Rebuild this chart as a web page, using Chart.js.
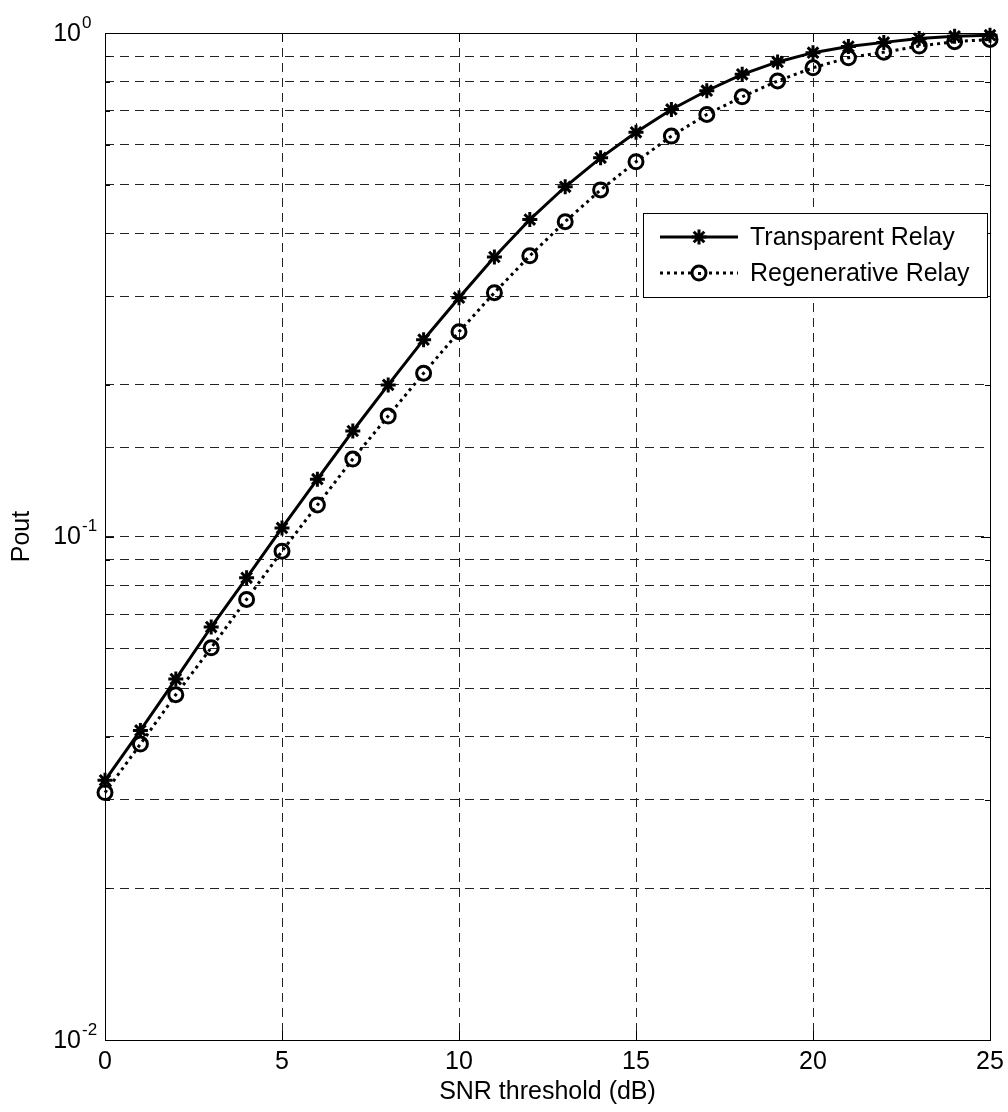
<!DOCTYPE html>
<html>
<head>
<meta charset="utf-8">
<script src="https://cdn.jsdelivr.net/npm/chart.js@4/dist/chart.umd.min.js"></script>
<style>
	body { margin: 0; background: #fff; }
	#wrap { width: 1008px; height: 1112px; }
</style>
</head>
<body>
<div id="wrap"><canvas id="myChart" width="1008" height="1112"></canvas></div>
<script>
// SNR threshold (dB)
var snr = [0, 1, 2, 3, 4, 5, 6, 7, 8, 9, 10, 11, 12, 13, 14, 15, 16, 17, 18, 19, 20, 21, 22, 23, 24, 25];
// outage probability
var transparent = [0.0328, 0.0412, 0.0521, 0.0661, 0.0828, 0.104, 0.130, 0.162, 0.200, 0.246, 0.298, 0.359, 0.426, 0.495, 0.565, 0.635, 0.705, 0.768, 0.828, 0.876, 0.914, 0.940, 0.958, 0.975, 0.985, 0.990];
var regenerative = [0.0310, 0.0387, 0.0485, 0.0601, 0.0750, 0.0935, 0.1155, 0.1425, 0.1735, 0.211, 0.255, 0.305, 0.361, 0.422, 0.488, 0.555, 0.624, 0.689, 0.747, 0.803, 0.853, 0.893, 0.916, 0.942, 0.961, 0.971];
var xTicks = [0, 5, 10, 15, 20, 25];
var yDecades = [1, 0.1, 0.01];
var yExponents = ['0', '-1', '-2'];
var seriesNames = ['Transparent Relay', 'Regenerative Relay'];

var FONT = '"Liberation Sans", Arial, sans-serif';

function toXY(ys) {
	return snr.map(function (x, i) { return {x: x, y: ys[i]}; });
}

function drawStar(ctx, x, y, r) {
	ctx.save();
	ctx.lineWidth = 3;
	ctx.strokeStyle = '#000';
	ctx.beginPath();
	for (var k = 0; k < 4; k++) {
		var a = k * Math.PI / 4;
		ctx.moveTo(x - Math.cos(a) * r, y - Math.sin(a) * r);
		ctx.lineTo(x + Math.cos(a) * r, y + Math.sin(a) * r);
	}
	ctx.stroke();
	ctx.restore();
}

function drawCircle(ctx, x, y, r) {
	ctx.save();
	ctx.lineWidth = 3;
	ctx.strokeStyle = '#000';
	ctx.beginPath();
	ctx.arc(x, y, r, 0, Math.PI * 2);
	ctx.stroke();
	ctx.restore();
}

// axes box, ticks, labels and legend
var decor = {
	id: 'decor',
	afterDatasetsDraw: function (chart) {
		var ctx = chart.ctx;
		var a = chart.chartArea;
		var xs = chart.scales.x, ys = chart.scales.y;
		ctx.save();
		ctx.strokeStyle = '#000';
		ctx.lineWidth = 1;
		ctx.setLineDash([]);
		ctx.strokeRect(a.left + 0.5, a.top + 0.5, a.right - a.left, a.bottom - a.top);

		// inward ticks
		ctx.beginPath();
		xTicks.forEach(function (t) {
			var px = Math.round(xs.getPixelForValue(t)) + 0.5;
			ctx.moveTo(px, a.bottom); ctx.lineTo(px, a.bottom - 9);
			ctx.moveTo(px, a.top); ctx.lineTo(px, a.top + 9);
		});
		[0.01, 0.1].forEach(function (d) {
			for (var m = 1; m <= 10; m++) {
				var py = Math.round(ys.getPixelForValue(d * m)) + 0.5;
				var len = (m === 1 || m === 10) ? 9 : 5;
				ctx.moveTo(a.left, py); ctx.lineTo(a.left + len, py);
				ctx.moveTo(a.right, py); ctx.lineTo(a.right - len, py);
			}
		});
		ctx.stroke();

		// tick labels
		ctx.fillStyle = '#000';
		ctx.font = '25px ' + FONT;
		ctx.textAlign = 'center';
		ctx.textBaseline = 'middle';
		xTicks.forEach(function (t) {
			ctx.fillText(String(t), xs.getPixelForValue(t), 1062);
		});
		yDecades.forEach(function (d, i) {
			var py = ys.getPixelForValue(d);
			ctx.font = '25px ' + FONT;
			ctx.textAlign = 'right';
			ctx.fillText('10', 81, py + 1);
			ctx.font = '17px ' + FONT;
			ctx.textAlign = 'left';
			ctx.fillText(yExponents[i], 82, py - 10);
		});

		// axis titles
		ctx.font = '25px ' + FONT;
		ctx.textAlign = 'center';
		ctx.fillText('SNR threshold (dB)', (a.left + a.right) / 2, 1092);
		ctx.save();
		ctx.translate(22, (a.top + a.bottom) / 2);
		ctx.rotate(-Math.PI / 2);
		ctx.fillText('Pout', 0, 0);
		ctx.restore();

		// legend
		ctx.fillStyle = '#fff';
		ctx.fillRect(643, 213, 344, 84);
		ctx.strokeStyle = '#000';
		ctx.lineWidth = 1;
		ctx.strokeRect(643.5, 213.5, 344, 84);

		ctx.lineWidth = 3;
		ctx.beginPath();
		ctx.moveTo(660, 237); ctx.lineTo(738, 237);
		ctx.stroke();
		drawStar(ctx, 699, 237, 7.5);

		ctx.setLineDash([3, 4]);
		ctx.beginPath();
		ctx.moveTo(660, 273); ctx.lineTo(738, 273);
		ctx.stroke();
		ctx.setLineDash([]);
		ctx.fillStyle = '#fff';
		ctx.beginPath(); ctx.arc(699, 273, 7, 0, Math.PI * 2); ctx.fill();
		drawCircle(ctx, 699, 273, 7);
		ctx.fillStyle = '#000';
		ctx.fillRect(698, 272, 3, 3);

		ctx.fillStyle = '#000';
		ctx.font = '25px ' + FONT;
		ctx.textAlign = 'left';
		ctx.fillText(seriesNames[0], 750, 238);
		ctx.fillText(seriesNames[1], 750, 274);
		ctx.restore();
	}
};

var ctx = document.getElementById('myChart').getContext('2d');
var chart = new Chart(ctx, {
	type: 'line',
	data: {
		datasets: [
			{
				label: seriesNames[0],
				data: toXY(transparent),
				borderColor: '#000',
				backgroundColor: 'transparent',
				borderWidth: 3,
				pointStyle: 'star',
				pointRadius: 7.5,
				pointBorderWidth: 3,
				pointBorderColor: '#000',
				tension: 0,
				clip: false
			},
			{
				label: seriesNames[1],
				data: toXY(regenerative),
				borderColor: '#000',
				backgroundColor: 'transparent',
				borderWidth: 3,
				borderDash: [3, 4],
				pointStyle: 'circle',
				pointRadius: 7,
				pointBorderWidth: 3,
				pointBorderColor: '#000',
				pointBackgroundColor: 'transparent',
				tension: 0,
				clip: false
			}
		]
	},
	options: {
		responsive: false,
		animation: false,
		layout: { padding: { top: 33, right: 18, left: 0, bottom: 0 } },
		plugins: {
			legend: { display: false },
			tooltip: { enabled: false }
		},
		scales: {
			x: {
				type: 'linear',
				min: 0,
				max: 25,
				afterFit: function (s) { s.height = 72; },
				afterBuildTicks: function (s) {
					s.ticks = xTicks.map(function (v) { return {value: v}; });
				},
				ticks: { display: false },
				grid: { color: '#222', lineWidth: 1, drawTicks: false },
				border: { display: false, dash: [9, 6] }
			},
			y: {
				type: 'logarithmic',
				min: 0.01,
				max: 1,
				afterFit: function (s) { s.width = 105; },
				ticks: { display: false, autoSkip: false },
				grid: { color: '#222', lineWidth: 1, drawTicks: false },
				border: { display: false, dash: [9, 6] }
			}
		}
	},
	plugins: [decor]
});
</script>
</body>
</html>
